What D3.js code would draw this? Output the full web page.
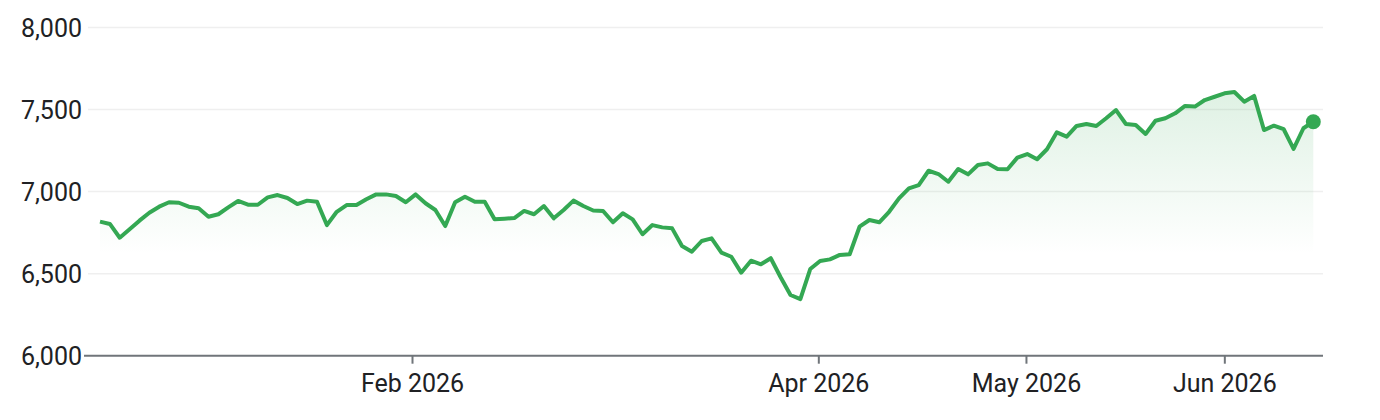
<!DOCTYPE html>
<html>
<head>
<meta charset="utf-8">
<script src="https://cdn.jsdelivr.net/npm/d3@7"></script>
<style>
  html, body { margin: 0; padding: 0; background: #fff; }
  svg { display: block; }
  text { font-family: Roboto, "Noto Sans", Arial, sans-serif; }
</style>
</head>
<body>
<svg id="chart" width="1380" height="420"></svg>
<script>
// ---- data ----
const values = [
  6817, 6803, 6719, 6770, 6823, 6871, 6908, 6935, 6932, 6908,
  6898, 6847, 6862, 6904, 6943, 6920, 6920, 6965, 6979, 6961,
  6924, 6945, 6938, 6796, 6877, 6918, 6918, 6953, 6983, 6983,
  6973, 6935, 6983, 6929, 6888, 6790, 6935, 6969, 6938, 6938,
  6831, 6835, 6839, 6882, 6862, 6912, 6837, 6888, 6945, 6912,
  6885, 6882, 6813, 6868, 6831, 6740, 6796, 6782, 6776, 6668,
  6634, 6699, 6715, 6628, 6603, 6506, 6579, 6557, 6594, 6478,
  6370, 6345, 6528, 6577, 6587, 6614, 6618, 6786, 6827, 6813,
  6877, 6959, 7020, 7040, 7127, 7107, 7060, 7138, 7105, 7162,
  7172, 7138, 7136, 7207, 7229, 7197, 7258, 7361, 7335, 7400,
  7412, 7400, 7447, 7497, 7412, 7406, 7351, 7432, 7447, 7477,
  7522, 7518, 7558, 7578, 7599, 7607, 7548, 7583, 7375, 7402,
  7380, 7260, 7386, 7426
];
const yTicks = [6000, 6500, 7000, 7500, 8000];
const xTickLabels = ["Feb 2026", "Apr 2026", "May 2026", "Jun 2026"];
const xTickIndex = [31.63, 72.82, 93.87, 113.98];

// ---- layout ----
const svg = d3.select("#chart");
const green = "#34a853";
const x = d3.scaleLinear().domain([0, values.length - 1]).range([100, 1313.3]);
const y = d3.scaleLinear().domain([6000, 8000]).range([355.7, 27.5]);
const axisLeftX = 84, axisRightX = 1323, gridLeftX = 88;

// gradient
const defs = svg.append("defs");
const grad = defs.append("linearGradient")
  .attr("id", "fillGrad")
  .attr("gradientUnits", "userSpaceOnUse")
  .attr("x1", 0).attr("x2", 0)
  .attr("y1", y(7620)).attr("y2", y(6620));
grad.append("stop").attr("offset", 0).attr("stop-color", green).attr("stop-opacity", 0.16);
grad.append("stop").attr("offset", 1).attr("stop-color", green).attr("stop-opacity", 0);

// gridlines
svg.append("g").selectAll("line")
  .data(yTicks.filter(d => d !== 6000))
  .join("line")
  .attr("x1", gridLeftX).attr("x2", axisRightX)
  .attr("y1", d => y(d)).attr("y2", d => y(d))
  .attr("stroke", "#efefef")
  .attr("stroke-width", 1.5);

// y labels
const fmt = d3.format(",");
svg.append("g").selectAll("text")
  .data(yTicks)
  .join("text")
  .attr("x", 82)
  .attr("y", d => y(d))
  .attr("dy", "0.36em")
  .attr("text-anchor", "end")
  .attr("font-size", 25)
  .attr("fill", "#202124")
  .text(d => fmt(d));

// area
const area = d3.area()
  .x((d, i) => x(i))
  .y0(y(6000))
  .y1(d => y(d));
svg.append("path")
  .datum(values)
  .attr("d", area)
  .attr("fill", "url(#fillGrad)");

// line
const line = d3.line()
  .x((d, i) => x(i))
  .y(d => y(d));
svg.append("path")
  .datum(values)
  .attr("d", line)
  .attr("fill", "none")
  .attr("stroke", green)
  .attr("stroke-width", 4)
  .attr("stroke-linejoin", "round")
  .attr("stroke-linecap", "butt");

// end dot
const lastI = values.length - 1;
svg.append("circle")
  .attr("cx", x(lastI))
  .attr("cy", y(values[lastI]))
  .attr("r", 7.5)
  .attr("fill", green);

// x axis
svg.append("line")
  .attr("x1", axisLeftX).attr("x2", axisRightX)
  .attr("y1", y(6000)).attr("y2", y(6000))
  .attr("stroke", "#70757a")
  .attr("stroke-width", 2);

const xAxis = d3.axisBottom(x)
  .tickValues(xTickIndex)
  .tickFormat((d, i) => xTickLabels[i])
  .tickSize(8)
  .tickSizeOuter(0);
const gx = svg.append("g")
  .attr("transform", `translate(0,${y(6000)})`)
  .call(xAxis);
gx.select(".domain").remove();
gx.selectAll(".tick line").attr("stroke", "#70757a").attr("stroke-width", 2);
gx.selectAll(".tick text")
  .attr("y", 36.3)
  .attr("dy", 0)
  .attr("font-size", 25)
  .attr("font-family", "Roboto, 'Noto Sans', Arial, sans-serif")
  .attr("fill", "#202124");
</script>
</body>
</html>
